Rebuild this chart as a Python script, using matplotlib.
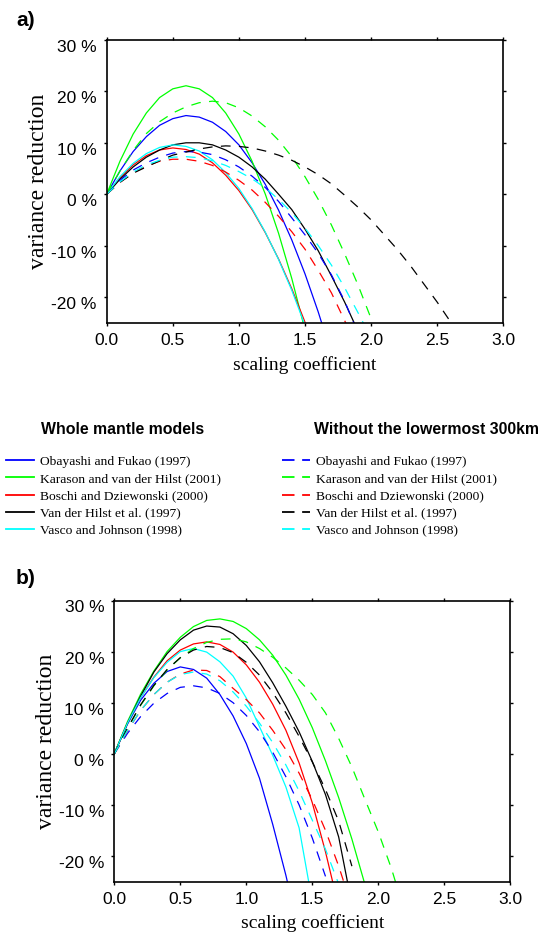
import matplotlib
matplotlib.use('Agg')
import matplotlib.pyplot as plt
from matplotlib.lines import Line2D
from matplotlib.ticker import FixedLocator, FuncFormatter

plt.rcParams['axes.unicode_minus'] = False
plt.rcParams['lines.scale_dashes'] = False

# scaling coefficient grid of the computation
scale = [0.0, 0.1, 0.2, 0.3, 0.4, 0.5, 0.6, 0.7, 0.8, 0.9, 1.0, 1.1, 1.2, 1.3,
         1.4, 1.5, 1.6, 1.7, 1.8, 1.9, 2.0, 2.1, 2.2, 2.3, 2.4, 2.5, 2.6]

models = ['Obayashi and Fukao (1997)', 'Karason and van der Hilst (2001)',
          'Boschi and Dziewonski (2000)', 'Van der Hilst et al. (1997)',
          'Vasco and Johnson (1998)']
colors = ['blue', 'lime', 'red', 'black', 'cyan']

# ---- a) variance reduction (%), whole mantle models
obayashi_a = [0, 4.5, 8.3, 11.2, 13.4, 14.7, 15.3, 15.0, 14.0, 12.2, 9.6, 6.1, 1.9,
              -3.1, -8.9, -15.5, -22.9, -31.1]
karason_a = [0, 6.4, 11.7, 15.8, 18.8, 20.5, 21.1, 20.5, 18.8, 15.8, 11.7, 6.4, 0.0,
             -7.6, -16.4, -26.4]
boschi_a = [0, 3.2, 5.7, 7.5, 8.6, 9.0, 8.7, 7.8, 6.1, 3.7, 0.7, -3.0, -7.5, -12.6,
            -18.4, -24.9, -32.1]
vdhilst_a = [0, 2.9, 5.3, 7.2, 8.6, 9.6, 10.0, 10.0, 9.6, 8.6, 7.2, 5.3, 2.9, 0.0,
             -3.0, -6.8, -11.0, -15.9, -21.0, -26.6]
vasco_a = [0, 3.4, 6.0, 7.9, 9.1, 9.6, 9.3, 8.4, 6.7, 4.2, 1.1, -2.8, -7.4, -12.7,
           -18.7, -25.5]

# ---- a) without the lowermost 300 km
obayashi_a_cut = [0, 2.7, 4.7, 6.1, 7.2, 8.0, 8.3, 8.2, 7.7, 6.7, 5.3, 3.5, 1.3, -1.4,
                  -4.6, -7.9, -11.5, -15.7, -20.8, -27.0]
karason_a_cut = [0, 4.5, 8.5, 11.8, 14.1, 15.8, 17.0, 17.8, 18.1, 17.8, 16.8, 15.2,
                 13.1, 10.5, 7.3, 3.4, -1.0, -6.0, -11.6, -17.6, -24.2]
boschi_a_cut = [0, 2.3, 4.1, 5.5, 6.4, 6.8, 6.8, 6.4, 5.6, 4.3, 2.7, 0.8, -1.6, -4.3,
                -7.3, -10.7, -14.8, -19.2, -24.6, -30.0]
vdhilst_a_cut = [0, 2.3, 4.1, 5.3, 6.5, 7.6, 8.2, 8.8, 9.2, 9.4, 9.3, 9.0, 8.4, 7.6,
                 6.6, 5.3, 3.8, 2.0, -0.2, -2.5, -5.0, -7.9, -10.8, -14.0, -17.5,
                 -21.0, -24.8]
vasco_a_cut = [0, 2.4, 4.3, 5.7, 6.6, 7.2, 7.3, 7.1, 6.5, 5.6, 4.4, 3.0, 1.2, -1.0,
               -3.6, -6.6, -10.0, -13.8, -18.2, -23.0, -28.0]

# ---- b) whole mantle models
obayashi_b = [0, 5.8, 10.5, 13.8, 16.1, 17.0, 16.5, 14.8, 11.6, 7.4, 2.0, -4.8, -13.8,
              -23.8, -35.0]
karason_b = [0, 6.3, 11.7, 16.2, 20.0, 22.8, 24.9, 26.1, 26.4, 25.9, 24.5, 22.3, 19.3,
             15.4, 10.7, 5.1, -1.4, -8.6, -16.7, -25.7]
boschi_b = [0, 6.0, 11.0, 15.0, 18.2, 20.3, 21.5, 21.9, 21.4, 19.9, 17.4, 14.0, 9.7,
            4.6, -1.8, -9.6, -19.2, -30.0]
vdhilst_b = [0, 6.0, 11.3, 16.0, 19.6, 22.3, 24.2, 25.0, 24.8, 23.5, 21.2, 18.0, 13.9,
             9.3, 4.3, -1.5, -8.0, -16.3, -29.5]
vasco_b = [0, 6.0, 11.0, 14.9, 17.9, 20.0, 20.6, 19.9, 18.0, 15.2, 10.9, 5.3, -0.3,
           -6.5, -14.5, -29.0]

# ---- b) without the lowermost 300 km
obayashi_b_cut = [0, 4.0, 7.3, 9.9, 11.8, 13.0, 13.3, 12.9, 11.8, 10.0, 7.5, 4.3, 0.3,
                  -4.5, -10.0, -16.5, -24.0]
karason_b_cut = [0, 5.0, 9.5, 13.3, 16.4, 18.8, 20.6, 21.8, 22.4, 22.5, 21.9, 20.6,
                 18.9, 16.8, 14.4, 11.6, 8.0, 3.0, -2.6, -9.0, -15.3, -22.5, -31.0]
boschi_b_cut = [0, 4.5, 8.5, 11.6, 14.0, 15.6, 16.4, 16.3, 15.1, 12.8, 10.6, 8.0, 4.6,
                0.8, -3.8, -9.0, -15.0, -22.0, -30.0]
vdhilst_b_cut = [0, 5.0, 9.6, 13.4, 16.5, 18.8, 20.3, 21.0, 20.8, 19.8, 17.9, 15.4,
                 12.0, 8.0, 3.4, -1.6, -7.0, -13.2, -22.0]
vasco_b_cut = [0, 4.6, 8.5, 11.6, 14.0, 15.5, 16.0, 15.6, 14.3, 12.1, 9.3, 6.0, 2.2,
               -2.2, -7.3, -13.0, -18.7, -25.5]

whole_a = [obayashi_a, karason_a, boschi_a, vdhilst_a, vasco_a]
cut_a = [obayashi_a_cut, karason_a_cut, boschi_a_cut, vdhilst_a_cut, vasco_a_cut]
whole_b = [obayashi_b, karason_b, boschi_b, vdhilst_b, vasco_b]
cut_b = [obayashi_b_cut, karason_b_cut, boschi_b_cut, vdhilst_b_cut, vasco_b_cut]

x_ticks = [0.0, 0.5, 1.0, 1.5, 2.0, 2.5, 3.0]
y_ticks = [-20, -10, 0, 10, 20, 30]

W, H = 538, 939
serif = 'Liberation Serif'
sans = 'Liberation Sans'
dash = (0, (7, 6))

fig = plt.figure(figsize=(W / 100, H / 100), dpi=100)


def panel(rect, whole, cut):
    ax = fig.add_axes(rect)
    for vals, c in zip(whole, colors):
        ax.plot(scale[:len(vals)], vals, color=c, lw=0.9)
    for vals, c in zip(cut, colors):
        ax.plot(scale[:len(vals)], vals, color=c, lw=0.9, ls=dash)
    ax.set_xlim(0, 3)
    ax.set_ylim(-25, 30)
    ax.xaxis.set_major_locator(FixedLocator(x_ticks))
    ax.yaxis.set_major_locator(FixedLocator(y_ticks))
    ax.xaxis.set_major_formatter(FuncFormatter(lambda v, p: '%.1f' % v))
    ax.yaxis.set_major_formatter(FuncFormatter(lambda v, p: '%d %%' % v))
    ax.tick_params(direction='out', length=2.3, width=1, top=True, right=True,
                   labelsize=12.5, pad=5)
    for lbl in ax.get_xticklabels() + ax.get_yticklabels():
        lbl.set_family(sans)
    for lbl in ax.get_yticklabels():
        lbl.set_va('top')
    for sp in ax.spines.values():
        sp.set_linewidth(1.2)
    ax.set_xlabel('scaling coefficient', family=serif, fontsize=14)
    ax.set_ylabel('variance reduction', family=serif, fontsize=17)
    ax.xaxis.set_label_coords(0.5, -0.149)
    ax.xaxis.label.set_va('center')
    ax.yaxis.set_label_coords(-0.172, 0.5)
    ax.yaxis.label.set_va('center')
    return ax


ax_a = panel([106.7 / W, 1 - 322.7 / H, 396.6 / W, 282.7 / H], whole_a, cut_a)
ax_b = panel([114.3 / W, 1 - 881.5 / H, 396.0 / W, 281.0 / H], whole_b, cut_b)

fig.text(16 / W, 1 - 20 / H, 'a)', family=sans, fontweight='bold', fontsize=15,
         va='center')
fig.text(16 / W, 1 - 578 / H, 'b)', family=sans, fontweight='bold', fontsize=15,
         va='center')

# legend
fig.text(41 / W, 1 - 430 / H, 'Whole mantle models', family=sans,
         fontweight='bold', fontsize=11.4, va='center')
fig.text(314 / W, 1 - 430 / H, 'Without the lowermost 300km', family=sans,
         fontweight='bold', fontsize=11.4, va='center')

h_solid = [Line2D([], [], color=c, lw=1.3) for c in colors]
h_dash = [Line2D([], [], color=c, lw=1.3, ls=(0, (9, 5.5))) for c in colors]
leg_kw = dict(loc='upper left', frameon=False, prop={'family': serif, 'size': 9.7},
              handlelength=2.1, handletextpad=0.45, labelspacing=0.35,
              borderpad=0, borderaxespad=0)
fig.legend(h_solid, models, bbox_to_anchor=(6 / W, 1 - 455.5 / H), **leg_kw)
fig.legend(h_dash, models, bbox_to_anchor=(282 / W, 1 - 455.5 / H), **leg_kw)

fig.savefig('out.png', dpi=100)
